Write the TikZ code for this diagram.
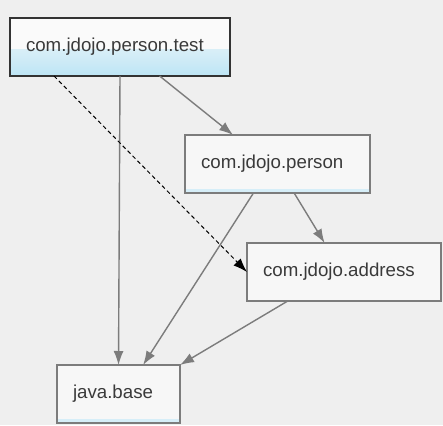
\documentclass[tikz,border=0pt]{standalone}
\usepackage{fontspec}
\setmainfont{Liberation Sans}
\usetikzlibrary{positioning, calc, arrows.meta}
\definecolor{canvas}{HTML}{EFEFEF}
\definecolor{boxfill}{HTML}{F7F7F7}
\definecolor{testblue}{HTML}{BDE5F5}
\definecolor{strip}{HTML}{D6EEF8}
\definecolor{edge}{HTML}{7C7C7C}
\definecolor{label}{HTML}{3A3A3A}

\begin{document}
\begin{tikzpicture}[
    >={Latex[length=14pt, width=10pt]},
    font=\fontsize{18.7}{22}\selectfont,
    module/.style={
        draw=edge,
        line width=1.5pt,
        fill=boxfill,
        text=label,
        align=left,
        minimum height=58pt,
        inner xsep=16pt,
        inner ysep=4pt,
        outer sep=0pt
    },
    stripped/.style={
        module,
        path picture={\fill[strip] (path picture bounding box.south west) rectangle ([yshift=4pt]path picture bounding box.south east);}
    },
    testmod/.style={
        module,
        draw=black!80,
        fill=white!98!black,
        path picture={\shade[top color=white!98!black, bottom color=testblue] ([yshift=26pt]path picture bounding box.south west) rectangle (path picture bounding box.south east);}
    },
    uses/.style={->, draw=edge, line width=1.4pt},
    reads/.style={->, draw=black, line width=1pt, dash pattern=on 4pt off 3pt}
]

\fill[canvas] (0,0) rectangle (443pt,-425pt);
\useasboundingbox (0,0) rectangle (443pt,-425pt);

\node[testmod, text width=188pt, anchor=north west] (test) at (10pt,-18pt) {com.jdojo.person.test};
\node[stripped, text width=153pt, below right=59pt and 175pt of test.south west] (person) {com.jdojo.person};
\node[module, text width=162pt, below right=50pt and 62pt of person.south west] (address) {com.jdojo.address};
\node[stripped, text width=91pt, below right=289pt and 47pt of test.south west] (base) {java.base};

\draw[uses] (test.south) -- (base.north);
\draw[uses] ($(test.south west)!0.68!(test.south east)$) -- ($(person.north west)!0.26!(person.north east)$);
\draw[reads] ($(test.south west)!0.2!(test.south east)$) -- (address.west);

\draw[uses] ($(person.south west)!0.37!(person.south east)$) -- ($(base.north west)!0.7!(base.north east)$);
\draw[uses] ($(person.south west)!0.59!(person.south east)$) -- ($(address.north west)!0.4!(address.north east)$);
\draw[uses] ($(address.south west)!0.21!(address.south east)$) -- (base.north east);

\end{tikzpicture}
\end{document}
